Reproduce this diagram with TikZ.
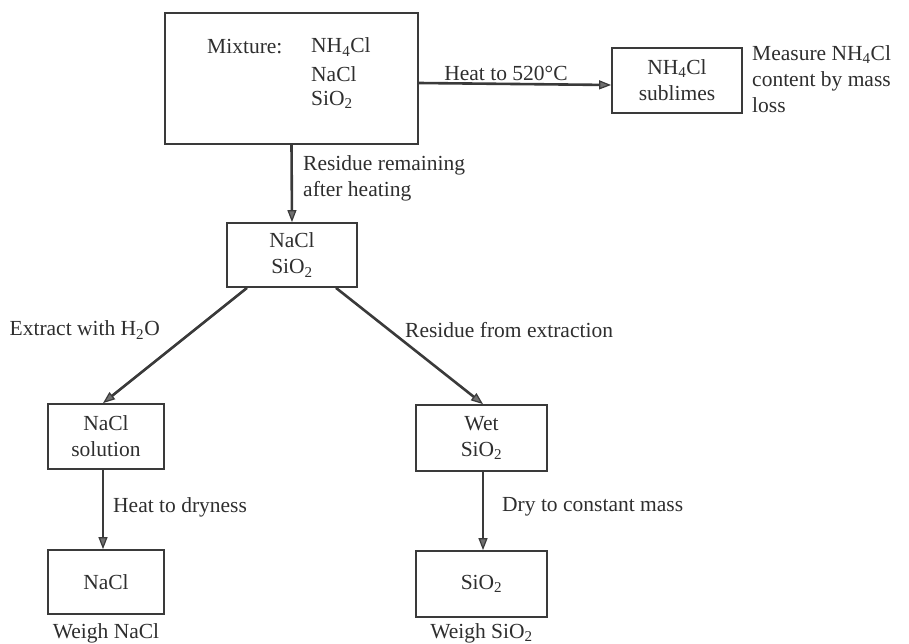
\documentclass[tikz,border=0pt]{standalone}
\usepackage{fontspec}
\setmainfont{Liberation Serif}
\usetikzlibrary{arrows.meta}
\definecolor{ink}{HTML}{2E2E2E}
\definecolor{line}{HTML}{3A3A3A}
\definecolor{headfill}{HTML}{707070}
\newcommand{\chemsub}[1]{\textsubscript{#1}}
\begin{document}
\begin{tikzpicture}[x=1pt,y=-1pt,
  font=\fontsize{21.5}{26}\selectfont,
  box/.style={draw=line,line width=1.8pt,inner sep=0pt,align=center,text=ink},
  lab/.style={inner sep=0pt,text=ink,align=left},
  arr/.style={draw=line,line width=2.6pt,-{Triangle[length=12pt,width=9pt,line width=1.2pt,fill=headfill]}}]
\useasboundingbox (0,0) rectangle (909,644);
% boxes
\node[box,minimum width=253pt,minimum height=131pt] (mix) at (291.5,78.5) {};
\node[lab,anchor=west] (mixlab) at (207,47) {Mixture:};
\node[lab,anchor=west] (c1) at (311,47) {NH\chemsub{4}Cl};
\node[lab,anchor=west] (c2) at (311,74) {NaCl};
\node[lab,anchor=west] (c3) at (311,100) {SiO\chemsub{2}};
\node[box,minimum width=130pt,minimum height=65pt] (sub) at (677,80.5) {NH\chemsub{4}Cl\\sublimes};
\node[box,minimum width=130pt,minimum height=64pt] (ns) at (292,255) {NaCl\\SiO\chemsub{2}};
\node[box,minimum width=116pt,minimum height=65pt] (sol) at (106,436.5) {NaCl\\solution};
\node[box,minimum width=131pt,minimum height=66pt] (wet) at (481.5,438) {Wet\\SiO\chemsub{2}};
\node[box,minimum width=116pt,minimum height=64pt] (nacl) at (106,582) {NaCl};
\node[box,minimum width=131pt,minimum height=66pt] (sio) at (481.5,584) {SiO\chemsub{2}};
% labels
\node[lab,anchor=center] (heat) at (506,73) {Heat to 520°C};
\node[lab,anchor=north west] (meas) at (752,45) {Measure NH\chemsub{4}Cl\\content by mass\\loss};
\node[lab,anchor=north west] (resid) at (303,155) {Residue remaining\\after heating};
\node[lab,anchor=east] (extr) at (160,330) {Extract with H\chemsub{2}O};
\node[lab,anchor=west] (rfe) at (405,330) {Residue from extraction};
\node[lab,anchor=west] (htd) at (113,507) {Heat to dryness};
\node[lab,anchor=west] (dry) at (502,507) {Dry to constant mass};
\node[lab,anchor=center] (wn) at (106,633) {Weigh NaCl};
\node[lab,anchor=center] (ws) at (481.5,633) {Weigh SiO\chemsub{2}};
% connectors
\draw[arr] ([yshift=-4.5pt]mix.east) -- ([yshift=-4.5pt]sub.west);
\draw[arr] (mix.south) -- (ns.north);
\draw[arr] ([xshift=-45pt]ns.south) -- ([xshift=-3pt]sol.north);
\draw[arr] ([xshift=44pt]ns.south) -- ([xshift=1.5pt]wet.north);
\draw[arr] ([xshift=-3pt]sol.south) -- ([xshift=-3pt]nacl.north);
\draw[arr] ([xshift=1.5pt]wet.south) -- ([xshift=1.5pt]sio.north);
\end{tikzpicture}
\end{document}
